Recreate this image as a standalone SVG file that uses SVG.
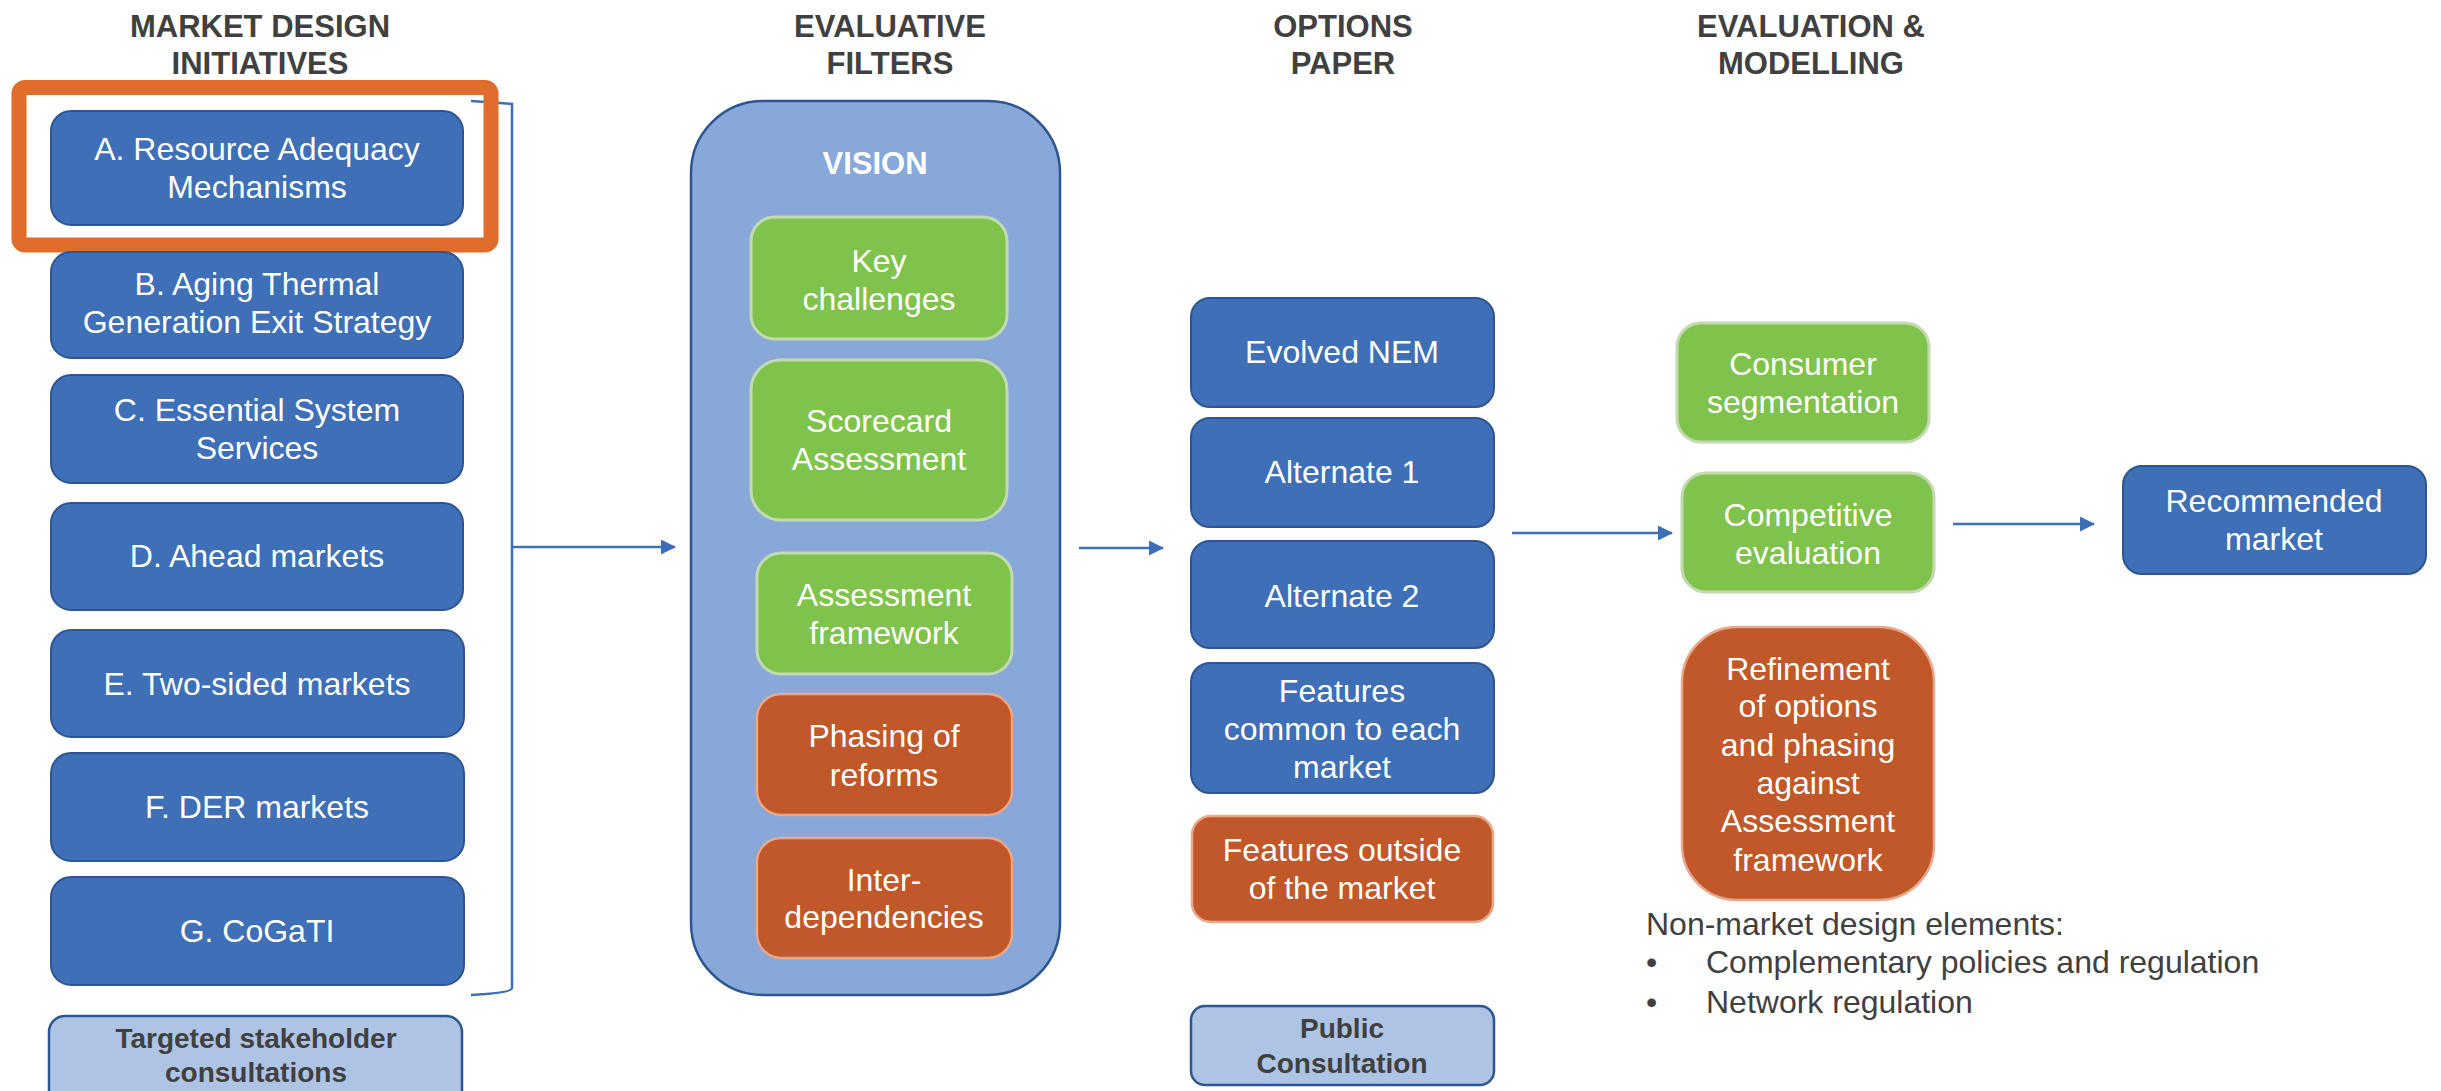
<svg xmlns="http://www.w3.org/2000/svg" width="2441" height="1091" viewBox="0 0 2441 1091">
<defs>
<style>
text{font-family:"Liberation Sans",Arial,sans-serif;}
.hdr{font-size:31px;font-weight:bold;fill:#404040;text-anchor:middle;}
.t{font-size:32px;fill:#ffffff;text-anchor:middle;}
.tb{font-size:28px;font-weight:bold;fill:#404040;text-anchor:middle;}
.nm{font-size:32px;fill:#404040;}
.blue{fill:#3E6FB7;stroke:#2D5592;stroke-width:2;}
.green{fill:#80C34C;stroke:#C3D9B0;stroke-width:3;}
.orange{fill:#C15829;stroke:#E9A88C;stroke-width:2.5;}
.light{fill:#AEC4E5;stroke:#2D5592;stroke-width:2.5;}
.conn{stroke:#3D6FB8;stroke-width:2.5;fill:none;}
</style>
<marker id="ah" markerUnits="userSpaceOnUse" markerWidth="16" markerHeight="16" refX="14" refY="7.5" orient="auto">
<path d="M0,0 L15,7.5 L0,15 z" fill="#3D6FB8"/>
</marker>
</defs>
<rect width="2441" height="1091" fill="#ffffff"/>

<g id="headers">
<text class="hdr" x="260" y="37">MARKET DESIGN</text>
<text class="hdr" x="260" y="74">INITIATIVES</text>
<text class="hdr" x="890" y="37">EVALUATIVE</text>
<text class="hdr" x="890" y="74">FILTERS</text>
<text class="hdr" x="1343" y="37">OPTIONS</text>
<text class="hdr" x="1343" y="74">PAPER</text>
<text class="hdr" x="1811" y="37">EVALUATION &amp;</text>
<text class="hdr" x="1811" y="74">MODELLING</text>
</g>

<g id="connectors">
<path class="conn" d="M471,101 L512,104 L512,988 Q512,993 471,995" stroke-width="2"/>
<line class="conn" x1="513" y1="547" x2="675" y2="547" marker-end="url(#ah)"/>
<line class="conn" x1="1079" y1="548" x2="1163" y2="548" marker-end="url(#ah)"/>
<line class="conn" x1="1512" y1="533" x2="1672" y2="533" marker-end="url(#ah)"/>
<line class="conn" x1="1953" y1="524" x2="2094" y2="524" marker-end="url(#ah)"/>
</g>

<g id="node-a">
<rect class="blue" x="51" y="111" width="412" height="114" rx="20"/>
<text class="t" x="257" y="160">A. Resource Adequacy</text>
<text class="t" x="257" y="198">Mechanisms</text>
</g>
<g id="highlight-a">
<rect x="19" y="87.5" width="472" height="157.5" rx="6" fill="none" stroke="#E06C2B" stroke-width="15"/>
</g>
<g id="node-b">
<rect class="blue" x="51" y="252" width="412" height="106" rx="20"/>
<text class="t" x="257" y="295">B. Aging Thermal</text>
<text class="t" x="257" y="333">Generation Exit Strategy</text>
</g>
<g id="node-c">
<rect class="blue" x="51" y="375" width="412" height="108" rx="20"/>
<text class="t" x="257" y="421">C. Essential System</text>
<text class="t" x="257" y="459">Services</text>
</g>
<g id="node-d">
<rect class="blue" x="51" y="503" width="412" height="107" rx="20"/>
<text class="t" x="257" y="567">D. Ahead markets</text>
</g>
<g id="node-e">
<rect class="blue" x="51" y="630" width="413" height="107" rx="20"/>
<text class="t" x="257" y="695">E. Two-sided markets</text>
</g>
<g id="node-f">
<rect class="blue" x="51" y="753" width="413" height="108" rx="20"/>
<text class="t" x="257" y="818">F. DER markets</text>
</g>
<g id="node-g">
<rect class="blue" x="51" y="877" width="413" height="108" rx="20"/>
<text class="t" x="257" y="942">G. CoGaTI</text>
</g>
<g id="node-targeted">
<rect class="light" x="49" y="1016" width="413" height="95" rx="16"/>
<text class="tb" x="256" y="1048">Targeted stakeholder</text>
<text class="tb" x="256" y="1082">consultations</text>
</g>

<g id="node-vision">
<rect x="691" y="101" width="369" height="894" rx="72" fill="#87A8D8" stroke="#2D5592" stroke-width="2.5"/>
<text x="875" y="174" font-size="31" font-weight="bold" fill="#ffffff" text-anchor="middle">VISION</text>
</g>
<g id="node-key">
<rect class="green" x="751" y="217" width="256" height="122" rx="24"/>
<text class="t" x="879" y="272">Key</text>
<text class="t" x="879" y="310">challenges</text>
</g>
<g id="node-scorecard">
<rect class="green" x="751" y="360" width="256" height="160" rx="30"/>
<text class="t" x="879" y="432">Scorecard</text>
<text class="t" x="879" y="470">Assessment</text>
</g>
<g id="node-framework">
<rect class="green" x="757" y="553" width="255" height="121" rx="24"/>
<text class="t" x="884" y="606">Assessment</text>
<text class="t" x="884" y="644">framework</text>
</g>
<g id="node-phasing">
<rect class="orange" x="757" y="694" width="255" height="121" rx="24"/>
<text class="t" x="884" y="747">Phasing of</text>
<text class="t" x="884" y="786">reforms</text>
</g>
<g id="node-inter">
<rect class="orange" x="757" y="838" width="255" height="120" rx="24"/>
<text class="t" x="884" y="891">Inter-</text>
<text class="t" x="884" y="928">dependencies</text>
</g>

<g id="node-evolved">
<rect class="blue" x="1191" y="298" width="303" height="109" rx="19"/>
<text class="t" x="1342" y="363">Evolved NEM</text>
</g>
<g id="node-alt1">
<rect class="blue" x="1191" y="418" width="303" height="109" rx="19"/>
<text class="t" x="1342" y="483">Alternate 1</text>
</g>
<g id="node-alt2">
<rect class="blue" x="1191" y="541" width="303" height="107" rx="19"/>
<text class="t" x="1342" y="607">Alternate 2</text>
</g>
<g id="node-common">
<rect class="blue" x="1191" y="663" width="303" height="130" rx="19"/>
<text class="t" x="1342" y="702">Features</text>
<text class="t" x="1342" y="740">common to each</text>
<text class="t" x="1342" y="778">market</text>
</g>
<g id="node-outside">
<rect class="orange" x="1192" y="816" width="301" height="106" rx="19"/>
<text class="t" x="1342" y="861">Features outside</text>
<text class="t" x="1342" y="899">of the market</text>
</g>
<g id="node-public">
<rect class="light" x="1191" y="1006" width="303" height="79" rx="14"/>
<text class="tb" x="1342" y="1038">Public</text>
<text class="tb" x="1342" y="1073">Consultation</text>
</g>

<g id="node-consumer">
<rect class="green" x="1677" y="323" width="252" height="119" rx="24"/>
<text class="t" x="1803" y="375">Consumer</text>
<text class="t" x="1803" y="413">segmentation</text>
</g>
<g id="node-competitive">
<rect class="green" x="1682" y="473" width="252" height="119" rx="24"/>
<text class="t" x="1808" y="526">Competitive</text>
<text class="t" x="1808" y="564">evaluation</text>
</g>
<g id="node-refinement">
<rect class="orange" x="1682" y="627" width="252" height="273" rx="55"/>
<text class="t" x="1808" y="680">Refinement</text>
<text class="t" x="1808" y="717">of options</text>
<text class="t" x="1808" y="756">and phasing</text>
<text class="t" x="1808" y="794">against</text>
<text class="t" x="1808" y="832">Assessment</text>
<text class="t" x="1808" y="871">framework</text>
</g>
<g id="node-recommended">
<rect class="blue" x="2123" y="466" width="303" height="108" rx="19"/>
<text class="t" x="2274" y="512">Recommended</text>
<text class="t" x="2274" y="550">market</text>
</g>

<g id="non-market">
<text class="nm" x="1646" y="935">Non-market design elements:</text>
<text class="nm" x="1646" y="973">•</text>
<text class="nm" x="1706" y="973">Complementary policies and regulation</text>
<text class="nm" x="1646" y="1013">•</text>
<text class="nm" x="1706" y="1013">Network regulation</text>
</g>
</svg>
